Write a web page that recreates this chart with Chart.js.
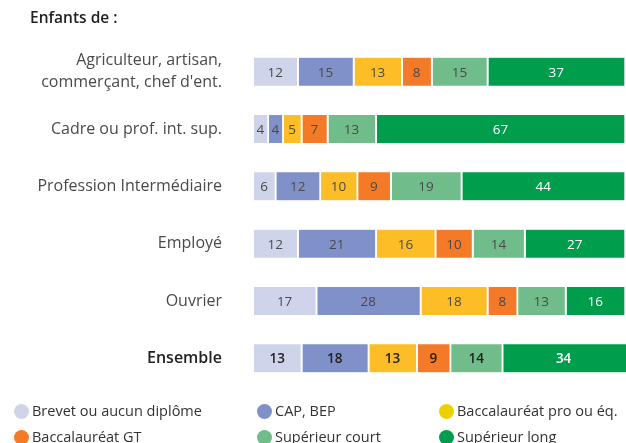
<!DOCTYPE html>
<html><head><meta charset="utf-8">
<script src="https://cdn.jsdelivr.net/npm/chart.js@4/dist/chart.umd.min.js"></script>
<style>
html,body{margin:0;padding:0;background:#fff;}
#wrap{position:relative;width:626px;height:443px;font-family:"Open Sans",sans-serif;}
#title{position:absolute;left:30px;top:6px;font-size:15.5px;font-weight:600;color:#222;z-index:2;}
.lg{position:absolute;font-family:"Open Sans",sans-serif;font-size:14.5px;color:#333;display:flex;align-items:center;white-space:nowrap;z-index:2;line-height:18px;}
.lg span.dot{display:inline-block;width:15px;height:15px;border-radius:50%;margin-right:3px;}
canvas{position:absolute;left:0;top:0;}
</style></head>
<body><div id="wrap"><canvas id="c" width="626" height="443"></canvas><div id="title">Enfants de :</div></div>
<script>
const categories = [["Agriculteur, artisan,","commerçant, chef d'ent."],"Cadre ou prof. int. sup.","Profession Intermédiaire","Employé","Ouvrier","Ensemble"];
const seriesNames = ["Brevet ou aucun diplôme","CAP, BEP","Baccalauréat pro ou éq.","Baccalauréat GT","Supérieur court","Supérieur long"];
const brevet = [12,4,6,12,17,13];
const cap = [15,4,12,21,28,18];
const bacPro = [13,5,10,16,18,13];
const bacGT = [8,7,9,10,8,9];
const supCourt = [15,13,19,14,13,14];
const supLong = [37,67,44,27,16,34];
const barColors = ["#d0d4ea","#7f91c8","#fdbd26","#f47a28","#70bc8a","#009e4c"];
const legendColors = ["#d0d4ea","#7f91c8","#ecd000","#f47a28","#70bc8a","#009e4c"];
const allSeries = [brevet,cap,bacPro,bacGT,supCourt,supLong];

const datasets = allSeries.map((d,i)=>({label:seriesNames[i],data:d,backgroundColor:barColors[i],borderColor:"#ffffff",borderWidth:{right:2},borderSkipped:false,barThickness:28}));

const labelPlugin = {
  id:'segLabels',
  afterDatasetsDraw(chart){
    const ctx = chart.ctx, area = chart.chartArea;
    ctx.save();
    ctx.textAlign='center'; ctx.textBaseline='middle';
    chart.data.datasets.forEach((ds,di)=>{
      const meta = chart.getDatasetMeta(di);
      meta.data.forEach((bar,i)=>{
        const l = Math.max(bar.base, area.left), r = Math.min(bar.x, area.right);
        const x = (l+r)/2 - 1;
        const bold = i===categories.length-1;
        ctx.font = (bold?'600 ':'')+'13.5px "Open Sans", sans-serif';
        ctx.fillStyle = di===5 ? '#ffffff' : (bold ? '#222' : '#4a4a4a');
        ctx.fillText(String(ds.data[i]), x, bar.y+1);
      });
    });
    ctx.restore();
  }
};

new Chart(document.getElementById('c'),{
  type:'bar',
  data:{labels:categories,datasets:datasets},
  options:{
    indexAxis:'y',responsive:false,animation:false,
    layout:{padding:{top:42,bottom:56,left:0,right:0}},
    plugins:{legend:{display:false},tooltip:{enabled:false},title:{display:false}},
    scales:{
      x:{stacked:true,min:0,max:100,display:false},
      y:{stacked:true,grid:{display:false,drawTicks:false},border:{display:false},
        afterFit(s){s.width=254;},
        ticks:{padding:32,color:(c)=>c.index===5?'#222':'#4a4a4a',
          font:(c)=>({family:'"Open Sans", sans-serif',size:16,weight:c.index===5?'600':'normal',lineHeight:1.38})}}
    }
  },
  plugins:[labelPlugin]
});

const wrap=document.getElementById('wrap');
const pos=[[14,402],[257,402],[439,402],[14,428],[257,428],[439,428]];
seriesNames.forEach((n,i)=>{
  const d=document.createElement('div');d.className='lg';
  d.style.left=pos[i][0]+'px';d.style.top=pos[i][1]+'px';
  d.innerHTML='<span class="dot" style="background:'+legendColors[i]+'"></span>'+n;
  wrap.appendChild(d);
});
</script></body></html>
